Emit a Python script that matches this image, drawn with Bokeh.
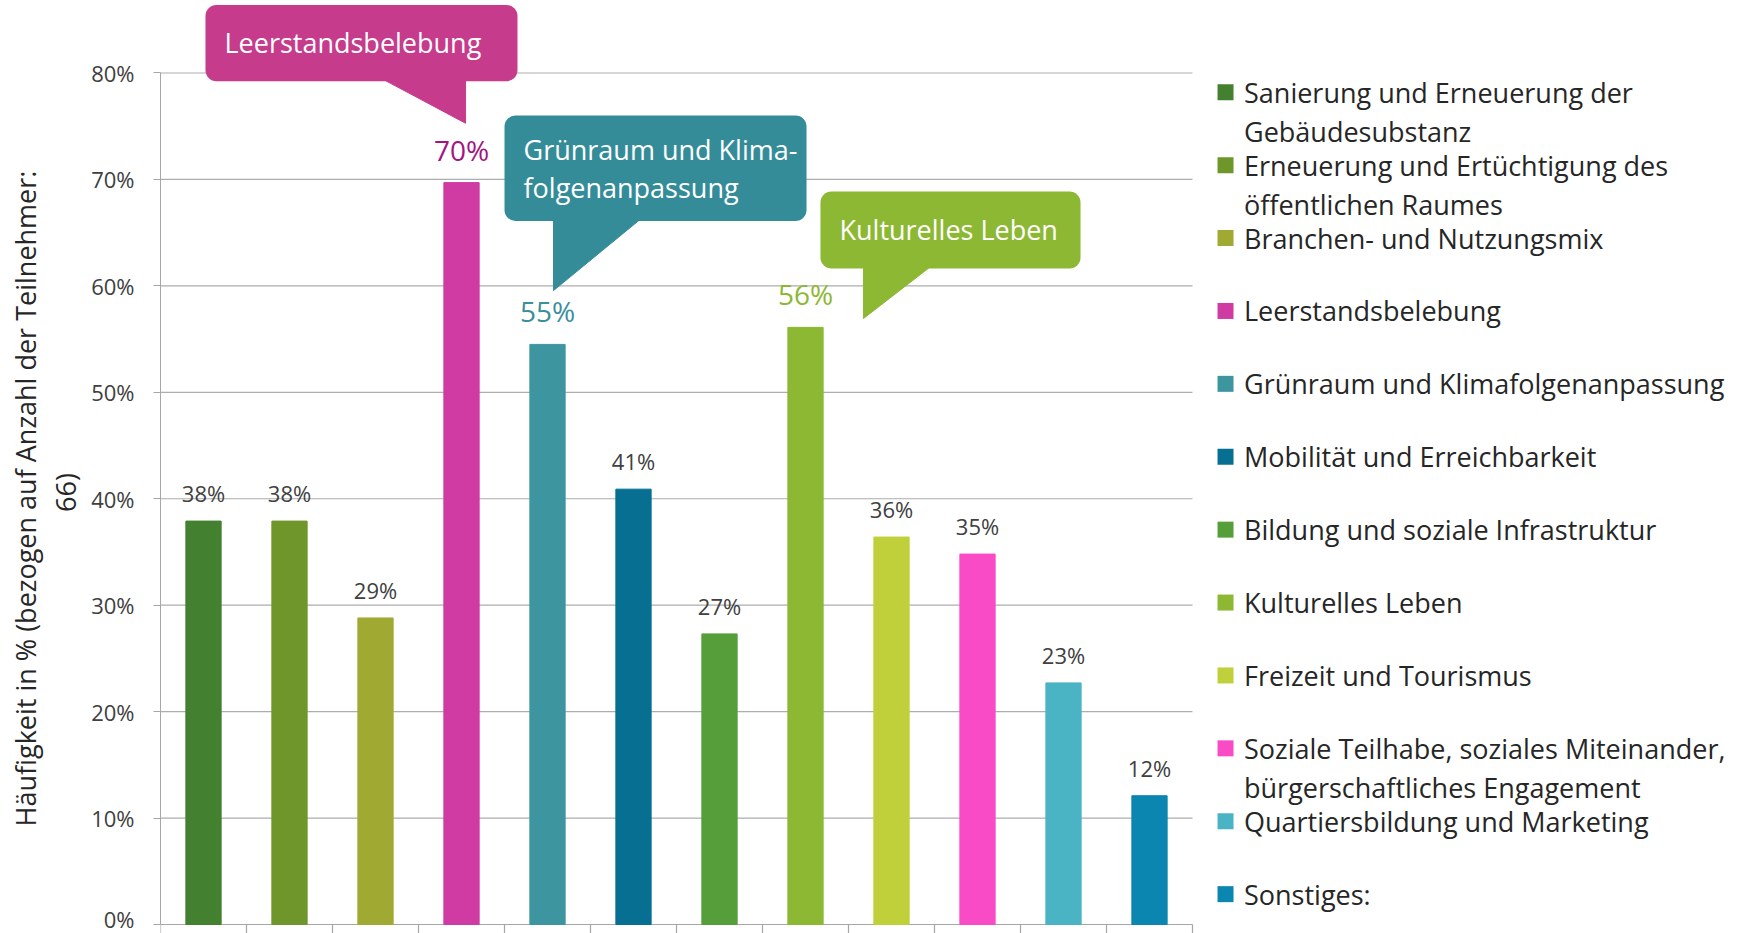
import math
from bokeh.plotting import figure
from bokeh.layouts import row
from bokeh.models import Range1d, FixedTicker, PrintfTickFormatter, BoxAnnotation, ColumnDataSource, Label
from bokeh.core.properties import value
from bokeh.embed import file_html
from bokeh.resources import INLINE

# ---------------- data ----------------
categories = [
    "Sanierung und Erneuerung der\nGebäudesubstanz",
    "Erneuerung und Ertüchtigung des\nöffentlichen Raumes",
    "Branchen- und Nutzungsmix",
    "Leerstandsbelebung",
    "Grünraum und Klimafolgenanpassung",
    "Mobilität und Erreichbarkeit",
    "Bildung und soziale Infrastruktur",
    "Kulturelles Leben",
    "Freizeit und Tourismus",
    "Soziale Teilhabe, soziales Miteinander,\nbürgerschaftliches Engagement",
    "Quartiersbildung und Marketing",
    "Sonstiges:",
]
values = [37.9, 37.9, 28.8, 69.7, 54.5, 40.9, 27.3, 56.1, 36.4, 34.8, 22.7, 12.1]
value_labels = ["38%", "38%", "29%", "70%", "55%", "41%", "27%", "56%", "36%", "35%", "23%", "12%"]
colors = ["#43802F", "#6F962B", "#A0AA32", "#CF3AA3", "#3D95A0", "#076F91",
          "#559E3A", "#8DB834", "#C0D03A", "#FA4BC7", "#4AB4C4", "#0B86B0"]
highlight_idx = [3, 4, 7]
highlight_label_colors = ["#A3157E", "#3A8F9C", "#8DB834"]
callout_colors = ["#C63B8B", "#358C99", "#8DB834"]
callout_texts = ["Leerstandsbelebung", "Grünraum und Klima-\nfolgenanpassung", "Kulturelles Leben"]
y_ticks = [0, 10, 20, 30, 40, 50, 60, 70, 80]
y_title_lines = ["Häufigkeit in % (bezogen auf Anzahl der Teilnehmer:", "66)"]

FONT = "Open Sans"
TXT = "#262626"
GRID = "#ADADAD"
AXIS = "#A6A6A6"

# ---------------- geometry ----------------
W, H = 1755, 933
TW = 88                 # width of the strip holding the value-axis title
PX = 10.644             # pixels per percent

# value-axis title strip (pixel coordinates)
tf = figure(width=TW, height=H, output_backend="svg", toolbar_location=None,
            x_axis_location=None, y_axis_location=None,
            x_range=Range1d(0, TW), y_range=Range1d(0, H),
            min_border_left=0, min_border_right=0, min_border_top=0, min_border_bottom=0)
tf.outline_line_color = None
tf.xgrid.visible = False
tf.ygrid.visible = False
tf.text(x=[25, 65], y=[H - 498, H - 492], text=y_title_lines, angle=math.pi / 2,
        text_color=TXT, text_font=value(FONT), text_font_size="27px",
        text_align="center", text_baseline="middle")

# main chart
p = figure(width=W - TW, height=H, output_backend="svg", toolbar_location=None,
           x_axis_location=None,
           x_range=Range1d(0, 1595 / 86), y_range=Range1d(-9 / PX, (H - 9) / PX),
           min_border_left=160 - TW, min_border_right=0, min_border_top=0, min_border_bottom=0)
p.outline_line_color = None
p.xgrid.visible = False
p.ygrid.visible = False

ax = p.yaxis[0]
ax.bounds = (0, 80)
ax.ticker = FixedTicker(ticks=y_ticks)
ax.formatter = PrintfTickFormatter(format="%d%%")
ax.minor_tick_line_color = None
ax.major_tick_in = 0
ax.major_tick_out = 7
ax.major_label_standoff = 19
ax.axis_line_color = AXIS
ax.major_tick_line_color = AXIS
ax.major_label_text_font = FONT
ax.major_label_text_font_size = "22px"
ax.major_label_text_color = "#404040"

n = len(values)
# gridlines (only over the category area)
p.segment(x0=[0] * (len(y_ticks) - 1), x1=[n] * (len(y_ticks) - 1), y0=y_ticks[1:], y1=y_ticks[1:],
          line_color=GRID, line_width=1.2)
# category axis line and separator ticks
p.segment(x0=[0], x1=[n], y0=[0], y1=[0], line_color=AXIS, line_width=1.2)
bounds_x = list(range(n + 1))
p.segment(x0=bounds_x, x1=bounds_x, y0=[0] * (n + 1), y1=[-9 / PX] * (n + 1),
          line_color=AXIS, line_width=1.2)

# bars
xs = [i + 0.5 for i in range(n)]
lab_colors = ["#404040"] * n
lab_sizes = ["22px"] * n
lab_off = [-28] * n
for k, i in enumerate(highlight_idx):
    lab_colors[i] = highlight_label_colors[k]
    lab_sizes[i] = "28px"
    lab_off[i] = -33
src = ColumnDataSource(dict(x=xs, top=values, color=colors, lab=value_labels,
                            lc=lab_colors, ls=lab_sizes, yo=lab_off))
p.vbar(x="x", top="top", width=0.41, color="color", source=src)
p.text(x="x", y="top", text="lab", text_color="lc", text_font_size="ls",
       text_font=value(FONT), text_align="center", text_baseline="alphabetic",
       y_offset="yo", source=src)

# ---------------- callouts ----------------
# (box left, right, top, bottom, tail x-left, tail x-right, tip x, tip y, text x, text y of first line)
callouts = [
    (0.523, 4.151, 86.39, 79.23, 2.605, 3.547, 3.547, 75.28, 0.744, 82.86),
    (4.000, 7.512, 76.00, 66.09, 4.570, 5.570, 4.570, 59.56, 4.221, 72.81),
    (7.674, 10.698, 68.87, 61.63, 8.174, 8.942, 8.174, 56.93, 7.895, 65.25),
]
line_gap = 3.57
for (l, r, t, b, tl, tr, tx, ty, txx, txy), col, txt in zip(callouts, callout_colors, callout_texts):
    p.add_layout(BoxAnnotation(left=l, right=r, top=t, bottom=b, fill_color=col, fill_alpha=1,
                               line_color=None, border_radius=11))
    p.patch(x=[tl, tr, tx], y=[b + 0.1, b + 0.1, ty], fill_color=col, line_color=col, line_width=1)
    for j, line in enumerate(txt.split("\n")):
        p.add_layout(Label(x=txx, y=txy - j * line_gap, text=line, text_color="white",
                           text_font=FONT, text_font_size="27px",
                           text_align="left", text_baseline="middle"))

# ---------------- legend ----------------
leg_sq_x, leg_tx_x = 12.384, 12.599
leg_y0, leg_step, leg_line = 78.19, 6.849, 3.664
sq_x, sq_y, t_x, t_y, t_txt = [], [], [], [], []
for i, cat in enumerate(categories):
    y = leg_y0 - i * leg_step
    sq_x.append(leg_sq_x)
    sq_y.append(y)
    for j, line in enumerate(cat.split("\n")):
        t_x.append(leg_tx_x)
        t_y.append(y - j * leg_line)
        t_txt.append(line)
p.scatter(x=sq_x, y=sq_y, marker="square", size=16, fill_color=colors, line_color=None)
p.text(x=t_x, y=t_y, text=t_txt, text_color=TXT, text_font=value(FONT),
       text_font_size="27px", text_align="left", text_baseline="middle")

layout = row(tf, p, spacing=0)
open("out.html", "w").write(file_html(layout, INLINE))
